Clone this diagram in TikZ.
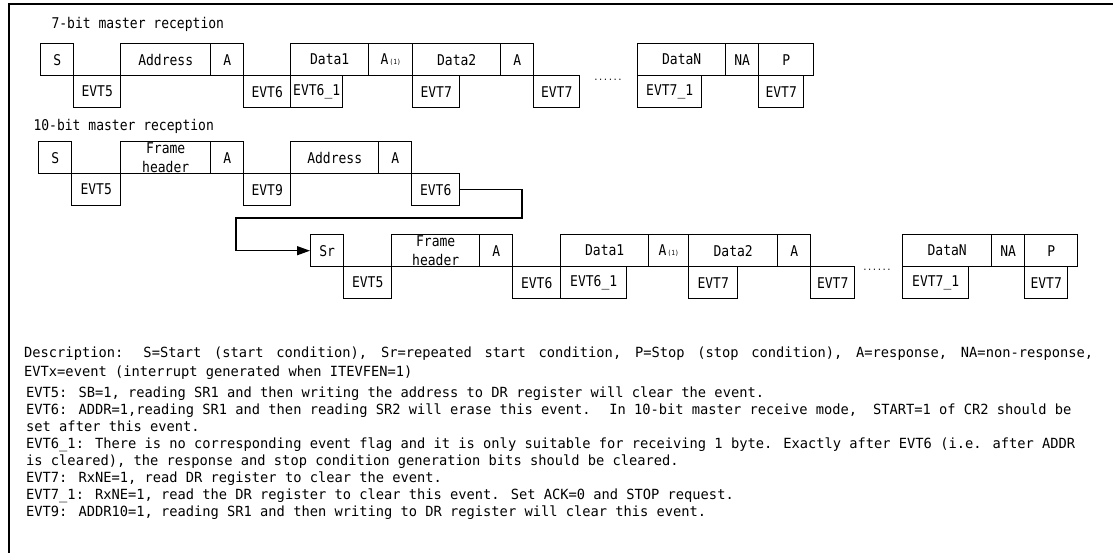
\documentclass[tikz,border=0pt]{standalone}
\usepackage{fontspec}
\setmonofont[FakeStretch=0.88]{DejaVu Sans Mono}
\newfontfamily\notefont[FakeStretch=0.98]{DejaVu Sans Mono}
\usetikzlibrary{arrows.meta,positioning}
\newcommand{\ackone}{A{\fontsize{7}{7}\selectfont\,(1)}}
\newcommand{\fw}{\hspace{0.55em}}

\begin{document}
\begin{tikzpicture}[x=1pt, y=-1pt, font=\ttfamily\fontsize{14.8}{19}\selectfont,
  cell/.style={draw, line width=1.4pt, anchor=north west, inner sep=0pt, minimum height=32pt},
  narrow/.style={cell, minimum width=33pt},
  evt/.style={cell, minimum width=47pt},
  wide/.style={cell, minimum width=88pt},
  twoline/.style={align=center, font=\ttfamily\fontsize{14.8}{18.5}\selectfont},
  legend/.style={anchor=north west, inner sep=0pt, align=left}]
  \useasboundingbox (0,0) rectangle (1113,553);
  \draw[line width=2pt] (9,553) -- (9,4) -- (1113,4);

  % 7-bit
  \node[anchor=west] (title7) at (48,24) {7-bit master reception};
  \node[narrow] (s1) at (40,43) {S};
  \node[evt] (evt5a) at (73,75) {EVT5};
  \node[wide, minimum width=90pt] (addr1) at (120,43) {Address};
  \node[narrow] (ack1) at (210,43) {A};
  \node[evt] (evt6a) at (243,75) {EVT6};
  \node[cell, minimum width=78pt] (data1a) at (290,43) {Data1};
  \node[cell, minimum width=52pt] (evt61a) at (290,75) {EVT6\_1};
  \node[cell, minimum width=44pt] (ack2) at (368,43) {\ackone};
  \node[wide] (data2a) at (412,43) {Data2};
  \node[evt] (evt7a) at (412,75) {EVT7};
  \node[narrow] (ack3) at (500,43) {A};
  \node[evt, minimum width=46pt] (evt7b) at (533,75) {EVT7};
  \node[anchor=base, font=\ttfamily\fontsize{9}{9}\selectfont] (dots1) at (608,81) {......};
  \node[wide] (datana) at (637,43) {DataN};
  \node[cell, minimum width=64pt] (evt71a) at (637,75) {EVT7\_1};
  \node[narrow] (nack1) at (725,43) {NA};
  \node[cell, minimum width=55pt] (stop1) at (758,43) {P};
  \node[cell, minimum width=45pt] (evt7c) at (758,75) {EVT7};

  % 10-bit, first part
  \node[anchor=west] (title10) at (30,126) {10-bit master reception};
  \node[narrow] (s2) at (38,141) {S};
  \node[evt, minimum width=49pt] (evt5b) at (71,173) {EVT5};
  \node[cell, twoline, minimum width=90pt] (fh2) at (120,141) {Frame\\header};
  \node[narrow] (ack4) at (210,141) {A};
  \node[evt] (evt9) at (243,173) {EVT9};
  \node[wide] (addr2) at (290,141) {Address};
  \node[narrow] (ack5) at (378,141) {A};
  \node[evt, minimum width=48pt] (evt6b) at (411,173) {EVT6};

  % 10-bit, after repeated start
  \node[narrow] (sr) at (310,234) {Sr};
  \node[evt, minimum width=48pt] (evt5c) at (343,266) {EVT5};
  \node[cell, twoline, minimum width=88pt] (fh3) at (391,234) {Frame\\header};
  \node[narrow] (ack6) at (479,234) {A};
  \node[evt, minimum width=48pt] (evt6c) at (512,266) {EVT6};
  \node[wide] (data1c) at (560,234) {Data1};
  \node[cell, minimum width=66pt] (evt61c) at (560,266) {EVT6\_1};
  \node[cell, minimum width=40pt] (ack7) at (648,234) {\ackone};
  \node[cell, minimum width=89pt] (data2c) at (688,234) {Data2};
  \node[evt, minimum width=49pt] (evt7d) at (688,266) {EVT7};
  \node[narrow] (ack8) at (777,234) {A};
  \node[evt, minimum width=44pt] (evt7e) at (810,266) {EVT7};
  \node[anchor=base, font=\ttfamily\fontsize{9}{9}\selectfont] (dots3) at (877,271) {......};
  \node[cell, minimum width=89pt] (datanc) at (902,234) {DataN};
  \node[cell, minimum width=66pt] (evt71c) at (902,266) {EVT7\_1};
  \node[narrow] (nack2) at (991,234) {NA};
  \node[cell, minimum width=53pt] (stop2) at (1024,234) {P};
  \node[cell, minimum width=43pt] (evt7f) at (1024,266) {EVT7};

  \coordinate (bendR) at (522,218);
  \coordinate (bendL) at (236,218);
  \draw[line width=1.4pt, -{Triangle[length=13pt,width=9pt]}] (evt6b.east) -| (bendR) -- (bendL) |- (sr.west);

  % legend
  \node[legend, font=\notefont\fontsize{14}{19}\selectfont] (desc) at (24,347)
    {\hbox to 1069pt{\spaceskip=8pt plus 1fil Description: S=Start (start condition), Sr=repeated start condition, P=Stop (stop condition), A=response, NA=non-response,}\\
     EVTx=event (interrupt generated when ITEVFEN=1)};
  \node[legend, font=\notefont\fontsize{14}{17}\selectfont] (notes) at (26,387)
    {EVT5: SB=1, reading SR1 and then writing the address to DR register will clear the event.\\
     EVT6: ADDR=1,reading SR1 and then reading SR2 will erase this event.\fw{} In 10-bit master receive mode,\fw{} START=1 of CR2 should be\\
     set after this event.\\
     EVT6\_1: There is no corresponding event flag and it is only suitable for receiving 1 byte. Exactly after EVT6 (i.e. after ADDR\\
     is cleared), the response and stop condition generation bits should be cleared.\\
     EVT7: RxNE=1, read DR register to clear the event.\\
     EVT7\_1: RxNE=1, read the DR register to clear this event. Set ACK=0 and STOP request.\\
     EVT9: ADDR10=1, reading SR1 and then writing to DR register will clear this event.};
\end{tikzpicture}
\end{document}
